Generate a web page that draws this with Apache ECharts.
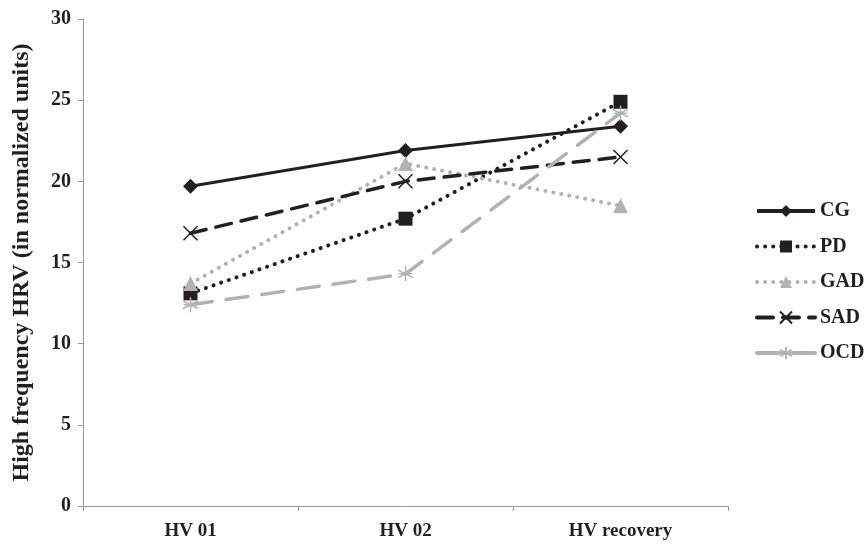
<!DOCTYPE html>
<html>
<head>
<meta charset="utf-8">
<script src="https://cdn.jsdelivr.net/npm/echarts@6/dist/echarts.min.js"></script>
<style>html,body{margin:0;padding:0;background:#fff}#c{width:868px;height:544px}</style>
</head>
<body>
<div id="c"></div>
<script>
const categories = ['HV 01', 'HV 02', 'HV recovery'];
const seriesNames = ['CG', 'PD', 'GAD', 'SAD', 'OCD'];
const CG = [19.7, 21.9, 23.4];
const PD = [13.1, 17.7, 24.9];
const GAD = [13.7, 21.1, 18.5];
const SAD = [16.8, 20.0, 21.5];
const OCD = [12.4, 14.3, 24.2];
const yTicks = [0, 5, 10, 15, 20, 25, 30];

const black = '#231f20';
const gray = '#b2b2b2';
const font = 'Liberation Serif';
const xPath = 'path://M0,0 L10,10 M10,0 L0,10';
const starPath = 'path://M5,0 L5,10 M0,2.5 L10,7.5 M10,2.5 L0,7.5 M0.5,5 L9.5,5';

const chart = echarts.init(document.getElementById('c'));
chart.setOption({
  animation: false,
  grid: { left: 83, right: 140, top: 19, bottom: 38 },
  legend: {
    orient: 'vertical', left: 755, top: 201, padding: 0,
    itemWidth: 58, itemHeight: 15, itemGap: 15.5,
    data: seriesNames,
    lineStyle: { width: 4 },
    textStyle: { fontFamily: font, fontWeight: 'bold', fontSize: 20, lineHeight: 20, color: black }
  },
  xAxis: {
    type: 'category', data: categories, boundaryGap: true,
    axisLine: { lineStyle: { color: '#999', width: 1 } },
    axisTick: { show: true, length: 5, lineStyle: { color: '#999' } },
    axisLabel: { fontFamily: font, fontWeight: 'bold', fontSize: 19, color: black, margin: 16 }
  },
  yAxis: {
    type: 'value', min: 0, max: 30, interval: 5,
    name: 'High frequency HRV (in normalized units)', nameLocation: 'middle', nameGap: 49,
    nameTextStyle: { fontFamily: font, fontWeight: 'bold', fontSize: 24, color: black },
    axisLine: { show: true, lineStyle: { color: '#999', width: 1 } },
    axisTick: { show: true, length: 5, lineStyle: { color: '#999' } },
    splitLine: { show: false },
    axisLabel: { fontFamily: font, fontWeight: 'bold', fontSize: 20, color: black, margin: 12,
      formatter: v => yTicks.includes(v) ? String(v) : '' }
  },
  series: [
    { name: 'CG', type: 'line', data: CG, symbol: 'diamond', symbolSize: 15,
      lineStyle: { color: black, width: 3 }, itemStyle: { color: black } },
    { name: 'PD', type: 'line', data: PD, symbol: 'rect', symbolSize: 14,
      lineStyle: { color: black, width: 4, type: [0.1, 8], cap: 'round' }, itemStyle: { color: black } },
    { name: 'GAD', type: 'line', data: GAD, symbol: 'triangle', symbolSize: 15,
      lineStyle: { color: gray, width: 4, type: [0.1, 8], cap: 'round' }, itemStyle: { color: gray } },
    { name: 'SAD', type: 'line', data: SAD, symbol: xPath, symbolSize: 14,
      lineStyle: { color: black, width: 3.5, type: [16, 10], cap: 'round' },
      itemStyle: { color: 'none', borderColor: black, borderWidth: 1.5 } },
    { name: 'OCD', type: 'line', data: OCD, symbol: starPath, symbolSize: 15,
      lineStyle: { color: gray, width: 3.5, type: [22, 14], cap: 'round' },
      itemStyle: { color: 'none', borderColor: gray, borderWidth: 1.5 } }
  ]
});
</script>
</body>
</html>
